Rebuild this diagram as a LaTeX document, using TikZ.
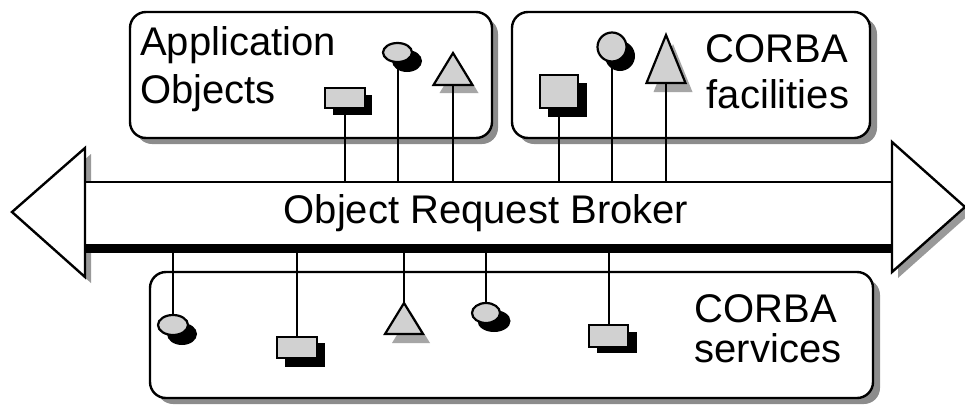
\documentclass[tikz,border=0pt]{standalone}
\usepackage{fontspec}
\setmainfont{Liberation Sans}
\usetikzlibrary{shapes.geometric}
\begin{document}
\begin{tikzpicture}[x=1pt,y=-1pt,
  lbl/.style={font=\fontsize{40}{48}\selectfont, inner sep=0pt},
  frame/.style={draw=black, line width=2.4pt, rounded corners=16pt, fill=white},
  frameshadow/.style={fill=black!45, rounded corners=16pt},
  stem/.style={line width=2pt},
  tone/.style={fill=black!18, draw=black, line width=2.2pt, inner sep=0pt, line join=miter},
  ink/.style={fill=black, inner sep=0pt},
  halftone/.style={fill=black!35},
  headshadow/.style={fill=black!40},
  head/.style={fill=white, draw=black, line width=2.4pt, line join=miter},
  ]
\useasboundingbox (0,0) rectangle (965,405);

% ---- rounded frames with drop shadows
\fill[frameshadow] (136,18) rectangle (498,144);
\draw[frame] (130,12) rectangle (492,138);
\fill[frameshadow] (518,18) rectangle (877,144);
\draw[frame] (512,12) rectangle (870,138);
\fill[frameshadow] (157,279) rectangle (880,404);
\draw[frame] (150,272) rectangle (873,398);

% ---- frame labels
\node[lbl, anchor=base west] (app1) at (140,55) {Application};
\node[lbl, anchor=base west] (app2) at (140,103) {Objects};
\node[lbl, anchor=base] (fac1) at (777,62) {CORBA};
\node[lbl, anchor=base] (fac2) at (778,108) {facilities};
\node[lbl, anchor=base] (srv1) at (766,322) {CORBA};
\node[lbl, anchor=base] (srv2) at (768,362) {services};

% ---- the broker: a bar with an arrow head at each end
\coordinate (lt) at (85,148);  \coordinate (ltip) at (12,212);  \coordinate (lb) at (85,277);
\coordinate (rt) at (892,142); \coordinate (rtip) at (965,207); \coordinate (rb) at (892,272);
\fill[headshadow] ([shift={(6,6)}]lt) -- ([shift={(6,6)}]ltip) -- ([shift={(6,6)}]lb) -- cycle;
\fill[headshadow] ([shift={(6,6)}]rt) -- ([shift={(6,6)}]rtip) -- ([shift={(6,6)}]rb) -- cycle;
\node[fill=white, inner sep=0pt, minimum width=807, minimum height=62] (orb) at (488.5,213) {};
\draw[line width=2.2pt] (orb.north west) -- (orb.north east);
\fill (orb.south west) rectangle ([yshift=-9]orb.south east);
\draw[head] (lt) -- (ltip) -- (lb) -- cycle;
\draw[head] (rt) -- (rtip) -- (rb) -- cycle;
\node[lbl, anchor=base] (orbtext) at (486,223) {Object Request Broker};

% ---- application objects
\node[ink, minimum width=39, minimum height=20] (ao1s) at (352.5,105) {};
\node[ink, ellipse, minimum width=30, minimum height=22] (ao2s) at (407,61) {};
\coordinate (ao3) at (453,85);
\fill[halftone] ([shift={(6,8)}]ao3) -- ++(19.5,0) -- ++(-19.5,-32) -- ++(-19.5,32) -- cycle;
\node[tone, minimum width=40, minimum height=20] (ao1) at (345,98) {};
\node[tone, ellipse, minimum width=29, minimum height=19] (ao2) at (397.5,52.5) {};
\draw[stem] (ao1s.south -| ao1) -- (ao1 |- orb.north);
\draw[stem] (ao2.south) -- (ao2 |- orb.north);
\draw[stem] (ao3) -- (ao3 |- orb.north);
\draw[tone] (ao3) -- ++(19.5,0) -- ++(-19.5,-32) -- ++(-19.5,32) -- cycle;

% ---- facilities
\node[ink, minimum width=39, minimum height=34] (cf1s) at (567.5,100) {};
\node[ink, circle, minimum size=30] (cf2s) at (620,56) {};
\coordinate (cf3) at (666,83);
\fill[halftone] ([shift={(7,9)}]cf3) -- ++(19.5,0) -- ++(-19.5,-48) -- ++(-19.5,48) -- cycle;
\node[tone, minimum width=38, minimum height=33] (cf1) at (559,91.5) {};
\node[tone, circle, minimum size=29] (cf2) at (612,47) {};
\draw[stem] (cf1s.south -| cf1) -- (cf1 |- orb.north);
\draw[stem] (cf2.south) -- (cf2 |- orb.north);
\draw[stem] (cf3) -- (cf3 |- orb.north);
\draw[tone] (cf3) -- ++(19.5,0) -- ++(-19.5,-48) -- ++(-19.5,48) -- cycle;

% ---- services
\node[ink, ellipse, minimum width=30, minimum height=22] (os1s) at (182,334) {};
\node[ink, minimum width=40, minimum height=24] (os2s) at (305,355) {};
\coordinate (os3) at (404,303);
\fill[halftone] ([shift={(7,9)}]os3) -- ++(19,31) -- ++(-38,0) -- cycle;
\node[ink, ellipse, minimum width=33, minimum height=22] (os4s) at (494,321) {};
\node[ink, minimum width=40, minimum height=21] (os5s) at (617,342.5) {};
\node[tone, ellipse, minimum width=30, minimum height=20] (os1) at (173,325) {};
\node[tone, minimum width=40, minimum height=21] (os2) at (297,347.5) {};
\node[tone, ellipse, minimum width=28, minimum height=20] (os4) at (486,313) {};
\node[tone, minimum width=39, minimum height=22] (os5) at (608.5,336) {};
\draw[stem] (os1 |- orb.south) -- (os1.north);
\draw[stem] (os2 |- orb.south) -- (os2.north);
\draw[stem] (os3 |- orb.south) -- (os3);
\draw[stem] (os4 |- orb.south) -- (os4.north);
\draw[stem] (os5 |- orb.south) -- (os5.north);
\draw[tone] (os3) -- ++(19,31) -- ++(-38,0) -- cycle;
\end{tikzpicture}
\end{document}
